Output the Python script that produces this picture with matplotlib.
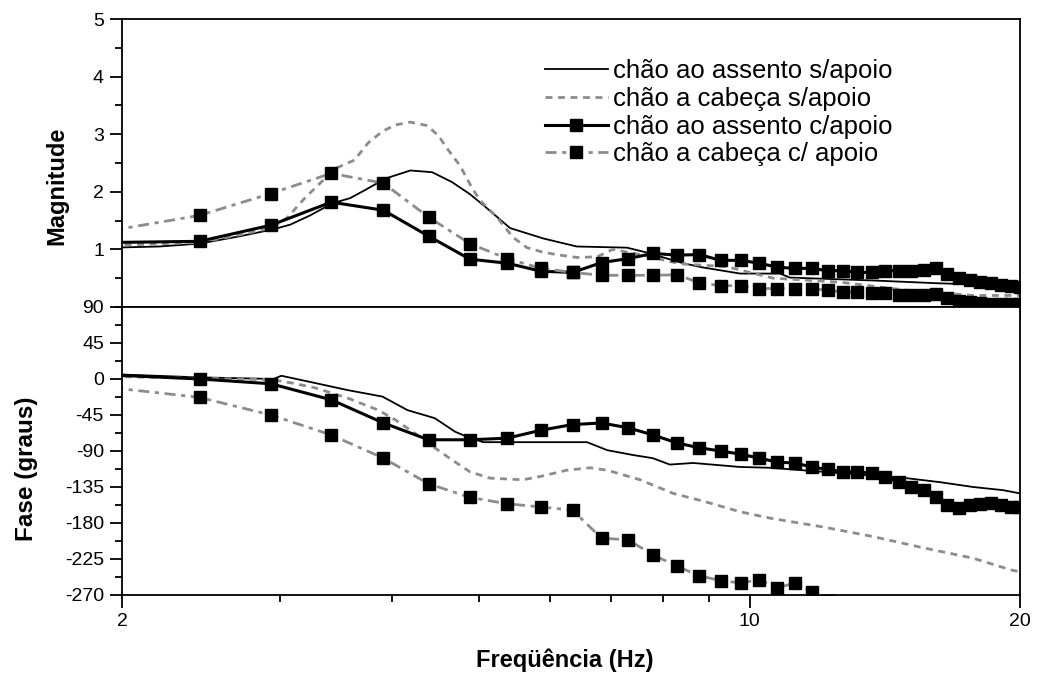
import matplotlib
matplotlib.use("Agg")
import matplotlib.pyplot as plt
from matplotlib.ticker import FixedLocator, NullFormatter, MultipleLocator

plt.rcParams['font.family'] = ['Liberation Sans', 'DejaVu Sans']
plt.rcParams['axes.unicode_minus'] = False

# Frequências das linhas espectrais (0,488 Hz) usadas nas curvas com marcadores
freq_bins = [1.95, 2.44, 2.93, 3.42, 3.91, 4.39, 4.88, 5.37, 5.86, 6.35,
             6.84, 7.32, 7.81, 8.30, 8.79, 9.28, 9.77, 10.25, 10.74, 11.23,
             11.72, 12.21, 12.70, 13.18, 13.67, 14.16, 14.65, 15.14, 15.63, 16.11,
             16.60, 17.09, 17.58, 18.07, 18.55, 19.04, 19.53, 20.02]

# chão ao assento s/apoio
freq_a_mag = [1.95, 2.20, 2.44, 2.71, 2.95, 3.08, 3.24, 3.43, 3.59, 3.73, 3.93, 4.19,
              4.43, 4.66, 4.88, 5.05, 5.41, 5.89, 6.42, 7.30, 7.66, 8.43, 8.84, 9.76,
              10.81, 11.09, 13.72, 16.29, 20.0]
mag_a = [1.03, 1.05, 1.10, 1.23, 1.35, 1.43, 1.59, 1.80, 1.89, 2.03, 2.23, 2.37,
         2.34, 2.17, 1.96, 1.77, 1.37, 1.19, 1.05, 1.03, 0.95, 0.76, 0.69, 0.58,
         0.58, 0.51, 0.46, 0.41, 0.37]
freq_a_fase = [1.95, 2.44, 2.95, 3.01, 3.28, 3.57, 3.90, 4.16, 4.46, 4.70, 4.84, 5.05,
               6.59, 6.94, 7.41, 7.80, 8.15, 8.65, 9.76, 10.54, 14.95, 16.29, 17.73,
               19.15, 20.0]
fase_a = [6, 2, 0, 4, -5, -14, -22, -39, -49, -66, -72, -79,
          -79, -89, -95, -99, -107, -105, -110, -111, -124, -129, -135,
          -139, -143]

# chão a cabeça s/apoio
freq_b_mag = [1.95, 2.44, 2.70, 2.95, 3.06, 3.20, 3.30, 3.45, 3.63, 3.76, 3.90, 4.03,
              4.19, 4.37, 4.50, 4.61, 4.76, 4.91, 5.01, 5.23, 5.45, 5.65, 5.89, 6.15,
              6.42, 6.76, 7.04, 7.61, 8.36, 9.43, 10.62, 12.61, 14.97, 17.73, 20.0]
mag_b = [1.07, 1.12, 1.25, 1.38, 1.56, 1.90, 2.10, 2.40, 2.55, 2.85, 3.05, 3.16,
         3.21, 3.15, 2.98, 2.74, 2.45, 2.06, 1.85, 1.56, 1.21, 1.03, 0.95, 0.90,
         0.86, 0.87, 1.00, 0.90, 0.75, 0.70, 0.50, 0.43, 0.29, 0.20, 0.20]
freq_b_fase = [1.95, 2.44, 2.95, 3.09, 3.28, 3.57, 3.86, 4.03, 4.24, 4.46, 4.66, 4.88,
               5.14, 5.59, 5.84, 6.26, 6.64, 6.94, 7.55, 8.22, 8.96, 9.76, 10.54, 12.07,
               13.72, 15.60, 17.73, 19.59, 20.0]
fase_b = [3, 1, -1, -5, -11, -24, -39, -51, -68, -86, -101, -116,
          -124, -126, -122, -114, -111, -114, -126, -143, -154, -166, -174, -185,
          -197, -211, -224, -239, -241]

# chão ao assento c/apoio
mag_c = [1.12, 1.14, 1.42, 1.82, 1.68, 1.23, 0.83, 0.76, 0.62, 0.60,
         0.77, 0.84, 0.93, 0.90, 0.91, 0.81, 0.81, 0.76, 0.69, 0.67,
         0.67, 0.63, 0.63, 0.60, 0.60, 0.63, 0.63, 0.63, 0.64, 0.67,
         0.58, 0.50, 0.46, 0.43, 0.41, 0.38, 0.36, 0.34]
fase_c = [5, 0, -6, -26, -55, -76, -76, -74, -64, -57,
          -55, -61, -70, -80, -86, -90, -94, -99, -104, -105,
          -110, -113, -116, -116, -118, -122, -129, -135, -139, -147,
          -158, -161, -158, -156, -155, -158, -160, -160]

# chão a cabeça c/ apoio
mag_d = [1.33, 1.59, 1.97, 2.32, 2.15, 1.56, 1.10, 0.84, 0.67, 0.60,
         0.55, 0.55, 0.55, 0.56, 0.42, 0.37, 0.37, 0.32, 0.32, 0.32,
         0.32, 0.29, 0.26, 0.26, 0.24, 0.24, 0.21, 0.20, 0.20, 0.23,
         0.16, 0.11, 0.08, 0.07, 0.06, 0.05, 0.05, 0.05]
freq_d_fase = freq_bins[:22]
fase_d = [-11, -23, -45, -70, -99, -131, -148, -156, -160, -164,
          -199, -201, -220, -234, -246, -252, -255, -251, -261, -255,
          -266, -278]

labels = ['chão ao assento s/apoio', 'chão a cabeça s/apoio',
          'chão ao assento c/apoio', 'chão a cabeça c/ apoio']

cinza = '#8c8c8c'
estilo_a = dict(color='black', lw=1.3, ls='-')
estilo_b = dict(color=cinza, lw=2.0, ls=(0, (2.5, 2.0)))
estilo_c = dict(color='black', lw=2.2, ls='-', marker='s', ms=8, mfc='black', mec='black')
estilo_d = dict(color=cinza, lw=2.0, ls=(0, (4, 2, 1.5, 2)), marker='s', ms=8,
                mfc='black', mec='black')

fig = plt.figure(figsize=(10.37, 6.82), dpi=100)
ax1 = fig.add_axes([0.1176, 0.5499, 0.8660, 0.4222])
ax2 = fig.add_axes([0.1176, 0.1276, 0.8660, 0.4223], sharex=ax1)

ax1.plot(freq_a_mag, mag_a, label=labels[0], **estilo_a)
ax1.plot(freq_b_mag, mag_b, label=labels[1], **estilo_b)
ax1.plot(freq_bins, mag_c, label=labels[2], **estilo_c)
ax1.plot(freq_bins, mag_d, label=labels[3], **estilo_d)

ax2.plot(freq_a_fase, fase_a, **estilo_a)
ax2.plot(freq_b_fase, fase_b, **estilo_b)
ax2.plot(freq_bins, fase_c, **estilo_c)
ax2.plot(freq_d_fase, fase_d, **estilo_d)

ax1.set_xscale('log')
ax1.set_xlim(2, 20)
ax1.set_ylim(0, 5)
ax2.set_ylim(-270, 90)

for ax in (ax1, ax2):
    ax.xaxis.set_major_locator(FixedLocator([2, 10, 20]))
    ax.xaxis.set_minor_locator(FixedLocator([3, 4, 5, 6, 7, 8, 9]))
    ax.xaxis.set_minor_formatter(NullFormatter())
    ax.tick_params(axis='both', which='major', direction='out', length=9, width=1.3,
                   labelsize=14, pad=4)
    ax.tick_params(axis='both', which='minor', direction='out', length=5, width=1.3)
    for s in ax.spines.values():
        s.set_linewidth(1.3)

ax1.set_yticks([1, 2, 3, 4, 5])
ax1.yaxis.set_minor_locator(MultipleLocator(0.5))
ax1.tick_params(axis='x', labelbottom=False)
ax2.set_yticks([-270, -225, -180, -135, -90, -45, 0, 45, 90])
ax2.yaxis.set_minor_locator(MultipleLocator(22.5))
ax2.set_xticklabels(['2', '10', '20'])

ax1.set_ylabel('Magnitude', fontsize=17, fontweight='bold')
ax1.yaxis.set_label_coords(-0.060, 0.42)
ax2.set_ylabel('Fase (graus)', fontsize=17.5, fontweight='bold')
ax2.yaxis.set_label_coords(-0.094, 0.44)
ax2.set_xlabel('Freqüência (Hz)', fontsize=17, fontweight='bold')
ax2.xaxis.set_label_coords(0.493, -0.185)

leg = ax1.legend(loc='upper left', bbox_to_anchor=(0.471, 0.86), frameon=False,
                 fontsize=18.5, handlelength=2.45, handletextpad=0.2, labelspacing=0.14,
                 numpoints=1, borderpad=0, borderaxespad=0)

fig.savefig('out.png', dpi=100)
